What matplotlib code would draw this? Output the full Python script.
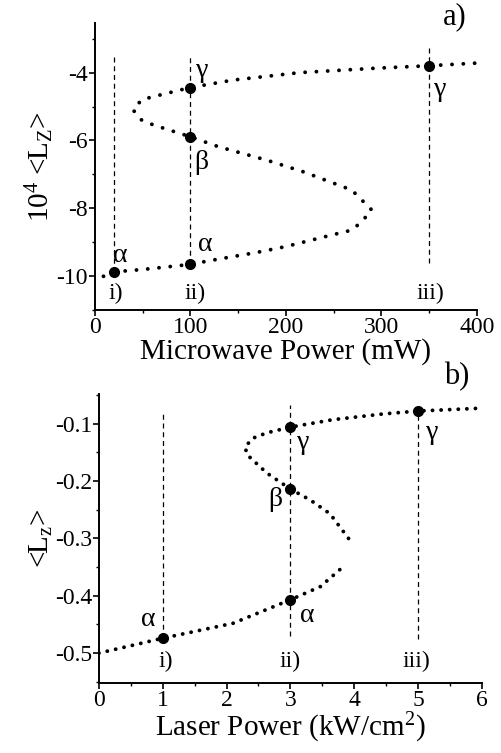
import numpy as np
import matplotlib.pyplot as plt
from matplotlib.ticker import MultipleLocator

plt.rcParams['font.family'] = ['Liberation Serif', 'DejaVu Serif']
plt.rcParams['mathtext.fontset'] = 'custom'
plt.rcParams['mathtext.rm'] = 'Liberation Serif'
plt.rcParams['mathtext.it'] = 'Liberation Serif:italic'
plt.rcParams['axes.unicode_minus'] = False

# panel a) microwave power sweep
mw_x = [9, 20, 50, 100, 120, 169, 199, 250, 269, 279, 290,
        279, 269, 218, 180, 129, 100, 61, 49, 40,
        49, 61, 100, 145, 215, 295, 349, 400]
mw_y = [-10.0, -9.87, -9.8, -9.65, -9.54, -9.3, -9.13, -8.77, -8.64, -8.4, -8.05,
        -7.74, -7.46, -6.92, -6.58, -6.18, -5.89, -5.54, -5.4, -5.1,
        -4.8, -4.71, -4.44, -4.22, -4.0, -3.87, -3.8, -3.72]
mw_pts_x = [20, 100, 100, 100, 350]
mw_pts_y = [-9.87, -9.65, -5.89, -4.44, -3.81]
mw_vlines = [20, 100, 350]
mw_vtop = [-3.45, -3.45, -3.25]
mw_vbot = [-9.87, -9.65, -9.62]

# panel b) laser power sweep (two branches)
lp_low_x = [0, 1.0, 2.1, 3.0, 3.47, 3.83]
lp_low_y = [-0.5, -0.474, -0.448, -0.407, -0.384, -0.349]
lp_up_x = [3.91, 3.62, 3.31, 3.0, 2.63, 2.32, 2.29, 2.42, 2.63, 3.0, 3.67, 4.46, 5.0, 6.0]
lp_up_y = [-0.3, -0.257, -0.233, -0.214, -0.186, -0.154, -0.14, -0.125, -0.116,
           -0.106, -0.093, -0.083, -0.078, -0.073]
lp_pts_x = [1, 3, 3, 3, 5]
lp_pts_y = [-0.474, -0.407, -0.214, -0.106, -0.078]
lp_vlines = [1, 3, 5]
lp_vtop = [-0.078, -0.067, -0.075]
lp_vbot = [-0.474, -0.47, -0.475]

fig = plt.figure(figsize=(5.02, 7.53), dpi=100)
ax1 = fig.add_axes([0.189, 0.588, 0.761, 0.381])
ax2 = fig.add_axes([0.197, 0.093, 0.763, 0.384])

def style(ax):
    for s in ['top', 'right']:
        ax.spines[s].set_visible(False)
    for s in ['left', 'bottom']:
        ax.spines[s].set_linewidth(1.4)
    ax.tick_params(which='major', direction='out', length=4, width=1.2, labelsize=17, pad=1)
    ax.tick_params(which='minor', direction='out', length=2.5, width=1.0)

dot = dict(color='black', lw=2.8, dash_capstyle='round', solid_capstyle='round')

# --- a) ---
ax1.plot(mw_x, mw_y, linestyle=(0, (0.01, 2.9)), **dot)
for x, t, b in zip(mw_vlines, mw_vtop, mw_vbot):
    ax1.plot([x, x], [b, t], color='black', lw=0.9, linestyle=(0, (4, 3)))
ax1.plot(mw_pts_x, mw_pts_y, 'o', color='black', ms=7, ls='none')
ax1.set_xlim(0, 400)
ax1.set_ylim(-11, -2.55)
ax1.xaxis.set_major_locator(MultipleLocator(100))
ax1.xaxis.set_minor_locator(MultipleLocator(50))
ax1.yaxis.set_major_locator(MultipleLocator(2))
ax1.yaxis.set_minor_locator(MultipleLocator(1))
style(ax1)
ax1.set_xlabel('Microwave Power (mW)', fontsize=21, labelpad=0)
ax1.set_ylabel(r'10$^4$ <L$_\mathrm{Z}$>', fontsize=21, labelpad=0)
tk = dict(fontsize=17, ha='center', va='center')
ax1.text(22, -10.5, 'i)', **tk)
ax1.text(105, -10.5, 'ii)', **tk)
ax1.text(351, -10.5, 'iii)', **tk)
gk = dict(fontsize=20, ha='center', va='center')
ax1.text(27, -9.4, 'α', **gk)
ax1.text(116, -9.05, 'α', **gk)
ax1.text(111, -6.65, 'β', **gk)
ax1.text(112, -3.95, 'γ', **gk)
ax1.text(362, -4.5, 'γ', **gk)
fig.text(0.905, 0.978, 'a)', fontsize=22, ha='center', va='center')

# --- b) ---
ax2.plot(lp_low_x, lp_low_y, linestyle=(0, (0.01, 2.2)), **dot)
ax2.plot(lp_up_x, lp_up_y, linestyle=(0, (0.01, 2.2)), **dot)
for x, t, b in zip(lp_vlines, lp_vtop, lp_vbot):
    ax2.plot([x, x], [b, t], color='black', lw=0.9, linestyle=(0, (4, 3)))
ax2.plot(lp_pts_x, lp_pts_y, 'o', color='black', ms=7, ls='none')
ax2.set_xlim(0, 6)
ax2.set_ylim(-0.552, -0.048)
ax2.xaxis.set_major_locator(MultipleLocator(1))
ax2.xaxis.set_minor_locator(MultipleLocator(0.5))
ax2.yaxis.set_major_locator(MultipleLocator(0.1))
ax2.yaxis.set_minor_locator(MultipleLocator(0.05))
ax2.yaxis.set_major_formatter(plt.FuncFormatter(lambda v, p: f'{v:.1f}'))
style(ax2)
ax2.set_xlabel(r'Laser Power (kW/cm$^2$)', fontsize=21, labelpad=0)
ax2.set_ylabel(r'<L$_\mathrm{z}$>', fontsize=21, labelpad=0)
ax2.text(1.05, -0.515, 'i)', **tk)
ax2.text(3.0, -0.515, 'ii)', **tk)
ax2.text(4.98, -0.515, 'iii)', **tk)
ax2.text(0.78, -0.441, 'α', **gk)
ax2.text(3.26, -0.434, 'α', **gk)
ax2.text(2.76, -0.232, 'β', **gk)
ax2.text(3.2, -0.132, 'γ', **gk)
ax2.text(5.22, -0.115, 'γ', **gk)
fig.text(0.91, 0.5, 'b)', fontsize=22, ha='center', va='center')

fig.savefig('out.png', dpi=100)
